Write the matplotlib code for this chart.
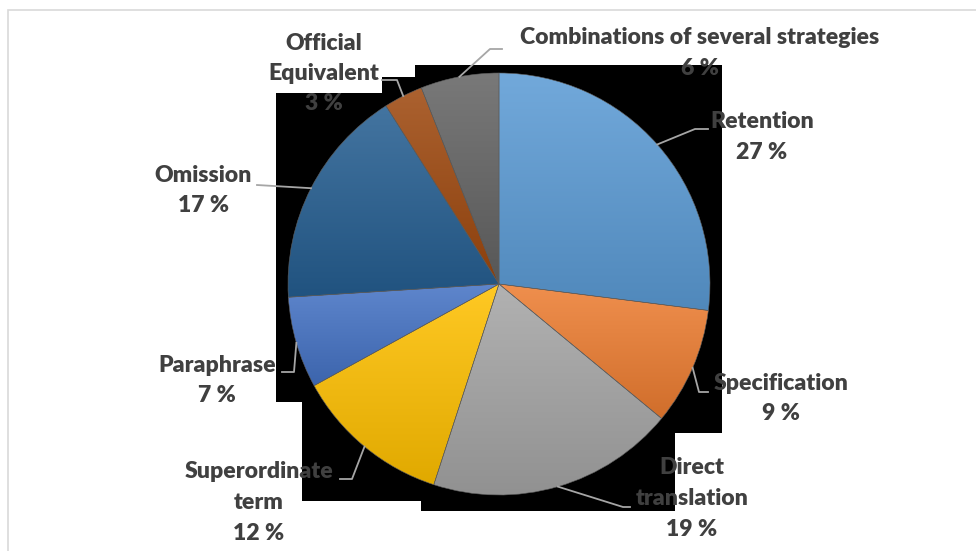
import numpy as np
import matplotlib.pyplot as plt
from matplotlib.patches import Polygon, Rectangle
from matplotlib.colors import to_rgb

W, H = 976, 551

categories = ["Retention", "Specification", "Direct translation", "Superordinate term",
              "Paraphrase", "Omission", "Official Equivalent",
              "Combinations of several strategies"]
shares = [27, 9, 19, 12, 7, 17, 3, 6]
colors = ["#5b9bd5", "#ed7d31", "#a5a5a5", "#ffc000",
          "#4472c4", "#255e91", "#9e480e", "#636363"]
# how each label is broken into lines
label_lines = [["Retention"], ["Specification"], ["Direct", "translation"],
               ["Superordinate", "term"], ["Paraphrase"], ["Omission"],
               ["Official", "Equivalent"], ["Combinations of several strategies"]]

# layout, in pixels from the top-left corner
center_px = (499, 284)
radius_px = 211
label_pos = [(762, 122), (781, 383), (692, 468), (259, 472),
             (217, 365), (203, 175), (324, 43), (700, 38)]
line_step = 30.5
# leader lines: elbow / end points after the start on the pie edge
leaders = [[(695, 129), (708, 129)], [(699, 392), (708, 392)],
           [(623, 507), (630, 507)], [(352, 479), (340, 479)],
           [(294, 372), (282, 372)], [(257, 185)],
           [(397, 80), (382, 80)], [(490, 49), (502, 49)]]
# black backdrop behind the pie (as in the source picture)
backdrop = [(276, 93), (382, 93), (382, 77), (415, 77), (415, 65), (722, 65),
            (722, 433), (675, 433), (675, 511), (421, 511), (421, 501),
            (302, 501), (302, 402), (276, 402)]


def fy(y):
    return H - y


fig = plt.figure(figsize=(W / 100, H / 100), dpi=100)
ax = fig.add_axes([0, 0, 1, 1])

ax.add_patch(Polygon([(x, fy(y)) for x, y in backdrop], closed=True,
                     facecolor="black", edgecolor="none", zorder=0.1))
ax.add_patch(Rectangle((8, -20), W + 40, fy(10) + 20, fill=False,
                       edgecolor="#d9d9d9", linewidth=1.2, zorder=0.2))

cx, cy = center_px[0], fy(center_px[1])
wedges, _ = ax.pie(shares, colors=colors, startangle=90, counterclock=False,
                   center=(cx, cy), radius=radius_px, frame=True,
                   wedgeprops=dict(edgecolor="#5f5f5f", linewidth=0.4))

# vertical gradient inside every slice, lighter at the top
for w, c in zip(wedges, colors):
    t = np.radians(np.linspace(w.theta1, w.theta2, 100))
    xs = np.concatenate([[cx], cx + radius_px * np.cos(t)])
    ys = np.concatenate([[cy], cy + radius_px * np.sin(t)])
    base = np.array(to_rgb(c))
    top = base + (1 - base) * 0.14
    bottom = base * 0.88
    f = np.linspace(0, 1, 256)[:, None]
    grad = (bottom[None, :] * (1 - f) + top[None, :] * f)[:, None, :]
    im = ax.imshow(grad, extent=[xs.min(), xs.max(), ys.min(), ys.max()],
                   origin="lower", aspect="auto", zorder=0.5, interpolation="bilinear")
    im.set_clip_path(w)
    w.set_facecolor("none")

# label font size fitted to the reference text width
probe = ax.text(0, 0, "Combinations of several strategies", fontsize=10,
                fontweight="heavy", family="Lato")
fig.canvas.draw()
fs = 10 * 360 / probe.get_window_extent().width
probe.remove()

total = sum(shares)
start = 90.0
for i, (w, share) in enumerate(zip(wedges, shares)):
    mid = np.radians(start - share / total * 360 / 2)
    start -= share / total * 360
    pts = [(cx + radius_px * np.cos(mid), cy + radius_px * np.sin(mid))]
    pts += [(x, fy(y)) for x, y in leaders[i]]
    pts = np.array(pts)
    ax.plot(pts[:, 0], pts[:, 1], color="#a6a6a6", linewidth=1.3, zorder=3)

    lx, ly = label_pos[i]
    lines = label_lines[i] + [f"{share} %"]
    for k, line in enumerate(lines):
        ax.text(lx, fy(ly + k * line_step), line, ha="center", va="center",
                fontsize=fs, fontweight="heavy", family="Lato", color="#404040",
                zorder=4)

ax.set_xlim(0, W)
ax.set_ylim(0, H)
ax.axis("off")

fig.savefig("out.png", dpi=100)
